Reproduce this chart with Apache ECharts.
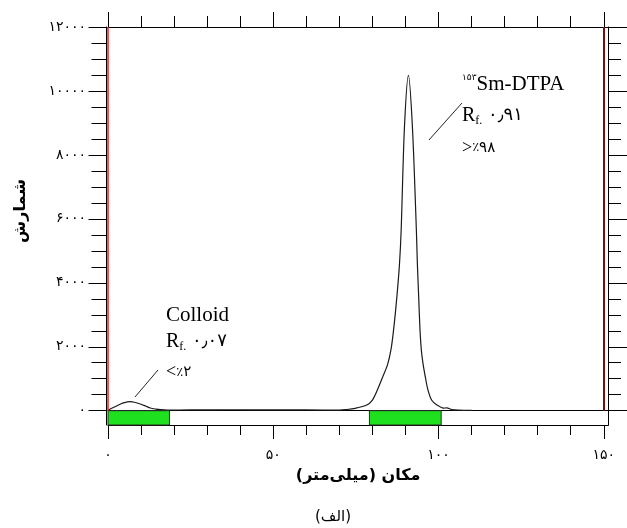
<!DOCTYPE html>
<html>
<head>
<meta charset="utf-8">
<script src="https://cdn.jsdelivr.net/npm/echarts@6/dist/echarts.min.js"></script>
<style>
html,body{margin:0;padding:0;background:#fff;}
#chart{width:627px;height:528px;}
</style>
</head>
<body>
<div id="chart"></div>
<script>
// ---- data ----
const position = [0, 1.75, 3.8, 5, 6.6, 8, 9.8, 11.5, 12.8, 14.5, 15.9, 18, 25, 35, 45, 55, 65,
  70, 72, 74.8, 78.3, 80, 81.3, 83.1, 84.6, 85.6, 86.4, 87.4, 88.2, 88.7, 89.7, 90.9,
  92.1, 93.3, 93.6, 94.0, 94.4, 94.8, 95.3, 96.0, 96.8, 97.9, 99.5, 101.5, 102.5, 104, 106, 110];
const counts = [15, 106, 210, 255, 281, 265, 210, 140, 84, 50, 31, 20, 25, 30, 28, 25, 22,
  20, 35, 75, 178, 330, 600, 1050, 1450, 1900, 2520, 3560, 4600, 5650, 8880, 10490,
  8880, 5650, 4600, 3560, 2520, 1900, 1480, 1060, 650, 335, 180, 80, 90, 35, 15, 8];
const bandStart = [0, 79.1];
const bandEnd = [18.6, 100.8];
const xMajorTicks = [0, 50, 100, 150];
const xMinorTicks = [10, 20, 30, 40, 60, 70, 80, 90, 110, 120, 130, 140];
const yMax = 12000;
const yStep = 2000;
const solventFront = [0, 150];
const peakLabels = [
  ['۱۵۳', 'Sm-DTPA', '۰٫۹۱', '>٪۹۸'],
  ['', 'Colloid', '۰٫۰۷', '<٪۲']
];

const FA = '۰۱۲۳۴۵۶۷۸۹';
const toFa = v => String(v).replace(/\d/g, d => FA[+d]);

const XMAX = 151.37;
const chart = echarts.init(document.getElementById('chart'));
const black = '#000';
const serif = '"Liberation Serif", "DejaVu Sans"';
const persian = '"DejaVu Sans"';

const option = {
  animation: false,
  backgroundColor: '#fff',
  grid: [
    {left: 108, top: 27, width: 500.3, height: 383.7},
    {left: 108, top: 410.7, width: 500.3, height: 14.3}
  ],
  xAxis: [
    {gridIndex: 0, type: 'value', position: 'top', min: 0, max: XMAX,
      axisLine: {onZero: false, lineStyle: {color: black, width: 1}},
      axisTick: {customValues: xMajorTicks, length: 15, lineStyle: {color: black}},
      axisLabel: {show: false}, splitLine: {show: false}},
    {gridIndex: 0, type: 'value', position: 'top', min: 0, max: XMAX,
      axisLine: {show: false, onZero: false},
      axisTick: {customValues: xMinorTicks, length: 11, lineStyle: {color: black}},
      axisLabel: {show: false}, splitLine: {show: false}},
    {gridIndex: 0, type: 'value', position: 'bottom', min: 0, max: XMAX,
      axisLine: {onZero: false, lineStyle: {color: black, width: 1}},
      axisTick: {show: false}, axisLabel: {show: false}, splitLine: {show: false}},
    {gridIndex: 1, type: 'value', position: 'bottom', min: 0, max: XMAX,
      axisLine: {onZero: false, lineStyle: {color: black, width: 1}},
      axisTick: {customValues: xMajorTicks, length: 14, lineStyle: {color: black}},
      axisLabel: {customValues: xMajorTicks, formatter: v => toFa(v), margin: 23,
        color: black, fontSize: 14, fontFamily: persian},
      splitLine: {show: false},
      name: '\u200Fمکان (میلی\u200Cمتر)\u200F', nameLocation: 'middle', nameGap: 43,
      nameTextStyle: {fontSize: 16, fontWeight: 'bold', color: black, fontFamily: persian}},
    {gridIndex: 1, type: 'value', position: 'bottom', min: 0, max: XMAX,
      axisLine: {show: false, onZero: false},
      axisTick: {customValues: xMinorTicks, length: 10, lineStyle: {color: black}},
      axisLabel: {show: false}, splitLine: {show: false}}
  ],
  yAxis: [
    {gridIndex: 0, type: 'value', position: 'left', min: 0, max: yMax, interval: yStep, offset: 1.5,
      axisLine: {show: true, onZero: false, lineStyle: {color: black, width: 1}},
      axisTick: {show: true, length: 18, lineStyle: {color: black}},
      minorTick: {show: true, splitNumber: 4, length: 15, lineStyle: {color: black}},
      axisLabel: {formatter: v => toFa(v), margin: 20.5, color: black, fontSize: 14, fontFamily: persian},
      splitLine: {show: false}},
    {gridIndex: 0, type: 'value', position: 'right', min: 0, max: yMax, interval: yStep,
      axisLine: {show: true, onZero: false, lineStyle: {color: black, width: 1}},
      axisTick: {show: true, length: 18.7, lineStyle: {color: black}},
      minorTick: {show: true, splitNumber: 4, length: 12.7, lineStyle: {color: black}},
      axisLabel: {show: false}, splitLine: {show: false}},
    {gridIndex: 1, type: 'value', position: 'left', min: 0, max: 1, offset: 1.5,
      axisLine: {show: true, onZero: false, lineStyle: {color: black}},
      axisTick: {show: false}, axisLabel: {show: false}, splitLine: {show: false}},
    {gridIndex: 1, type: 'value', position: 'right', min: 0, max: 1,
      axisLine: {show: true, onZero: false, lineStyle: {color: black}},
      axisTick: {show: false}, axisLabel: {show: false}, splitLine: {show: false}}
  ],
  series: [
    {
      type: 'line', xAxisIndex: 0, yAxisIndex: 0,
      data: position.map((x, i) => [x, counts[i]]),
      showSymbol: false, smooth: 0.3,
      lineStyle: {color: '#1a1a1a', width: 1.2},
      z: 3,
      markLine: {
        silent: true, symbol: ['none', 'none'], label: {show: false},
        lineStyle: {type: 'solid', color: '#222', width: 1},
        data: [
          {xAxis: solventFront[0], lineStyle: {color: '#e41e1e', width: 1.5, type: 'solid'}},
          {xAxis: solventFront[1], lineStyle: {color: '#7b0c0c', width: 2, type: 'solid'}},
          [{coord: [97.1, 8465]}, {coord: [107.1, 9622]}],
          [{coord: [8.17, 428]}, {coord: [15.13, 1273]}]
        ]
      }
    },
    {
      type: 'custom', xAxisIndex: 3, yAxisIndex: 2,
      data: bandStart.map((s, i) => [s, bandEnd[i]]),
      renderItem: (params, api) => {
        const p0 = api.coord([api.value(0), 1]);
        const p1 = api.coord([api.value(1), 0]);
        return {type: 'rect', shape: {x: p0[0], y: p0[1], width: p1[0] - p0[0], height: p1[1] - p0[1]},
          style: {fill: '#1fe01f', stroke: '#2a2a2a', lineWidth: 1}};
      },
      z: 4
    }
  ]
};
chart.setOption(option);

function px(x, y) { return chart.convertToPixel({xAxisIndex: 0, yAxisIndex: 0}, [x, y]); }
const richBase = {
  sup: {fontSize: 9, fontFamily: persian, verticalAlign: 'top', lineHeight: 10, fill: black},
  big: {fontSize: 21, fontFamily: serif, lineHeight: 22, fill: black},
  r: {fontSize: 20, fontFamily: serif, lineHeight: 22, fill: black},
  sub: {fontSize: 12, fontFamily: serif, verticalAlign: 'bottom', lineHeight: 14, fill: black},
  num: {fontSize: 18, fontFamily: persian, lineHeight: 22, fill: black},
  gt: {fontSize: 18, fontFamily: serif, lineHeight: 22, fill: black},
  pct: {fontSize: 13, fontFamily: persian, lineHeight: 22, fill: black},
  pn: {fontSize: 15, fontFamily: persian, lineHeight: 22, fill: black}
};
function textEl(p, text) {
  return {type: 'text', x: p[0], y: p[1], silent: true, z: 10,
    style: {text: text, rich: richBase, align: 'left', verticalAlign: 'middle', fill: black}};
}
const anchors = [
  {x: 107.1, y: [10202, 9223, 8216]},
  {x: 17.55, y: [2977, 2164, 1195]}
];
const graphics = [];
peakLabels.forEach((lab, i) => {
  const a = anchors[i];
  const l1 = (lab[0] ? '{sup|' + lab[0] + '}' : '') + '{big|' + lab[1] + '}';
  graphics.push(textEl(px(a.x, a.y[0]), l1));
  graphics.push(textEl(px(a.x, a.y[1]), '{r|R}{sub|f.}{num| ' + lab[2] + '}'));
  graphics.push(textEl(px(a.x, a.y[2]), '{gt|' + lab[3][0] + '}{pct|' + lab[3].slice(1, 2) + '}{pn|' + lab[3].slice(2) + '}'));
});
graphics.push({type: 'text', x: 21, y: 211, rotation: Math.PI / 2, silent: true,
  style: {text: 'شمارش', font: 'bold 16px "DejaVu Sans"', fill: black, align: 'center', verticalAlign: 'middle'}});
graphics.push({type: 'text', x: 333, y: 517, silent: true,
  style: {text: '\u200F(الف)\u200F', font: '15px "DejaVu Sans"', fill: black, align: 'center', verticalAlign: 'middle'}});
chart.setOption({graphic: graphics});
</script>
</body>
</html>
